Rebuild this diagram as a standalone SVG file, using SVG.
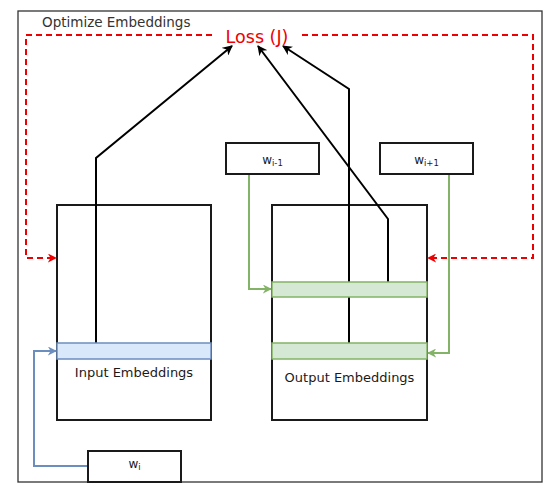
<svg xmlns="http://www.w3.org/2000/svg" width="557" height="494" viewBox="0 0 557 494">
<defs>
<style>
.frame{fill:#ffffff;stroke:#333333;stroke-width:1.3}
.box{fill:#ffffff;stroke:#1a1a1a;stroke-width:2}
.blue{fill:#dae8fc;stroke:#6c8ebf;stroke-width:1.5}
.green{fill:#d5e8d4;stroke:#82b366;stroke-width:1.5}
.blk{fill:none;stroke:#000000;stroke-width:2}
.red{fill:none;stroke:#ee0000;stroke-width:2;stroke-dasharray:6 4}
.gl{fill:none;stroke:#82b366;stroke-width:2}
.bl{fill:none;stroke:#6c8ebf;stroke-width:2}
text{font-family:"DejaVu Sans","Liberation Sans",sans-serif}
.lbl{font-size:13px;fill:#1a1a1a}
.w{font-size:12px;fill:#1a1a1a}
</style>
<marker id="aK" viewBox="0 0 10 10" refX="9" refY="5" markerWidth="10" markerHeight="10" orient="auto" markerUnits="userSpaceOnUse"><path d="M0,0 L10,5 L0,10 L3,5 z" fill="#000000"/></marker>
<marker id="aR" viewBox="0 0 10 10" refX="9" refY="5" markerWidth="9" markerHeight="9" orient="auto" markerUnits="userSpaceOnUse"><path d="M0,0 L10,5 L0,10 L3,5 z" fill="#ee0000"/></marker>
<marker id="aG" viewBox="0 0 10 10" refX="9" refY="5" markerWidth="9" markerHeight="9" orient="auto" markerUnits="userSpaceOnUse"><path d="M0,0 L10,5 L0,10 L3,5 z" fill="#82b366"/></marker>
<marker id="aB" viewBox="0 0 10 10" refX="9" refY="5" markerWidth="9" markerHeight="9" orient="auto" markerUnits="userSpaceOnUse"><path d="M0,0 L10,5 L0,10 L3,5 z" fill="#6c8ebf"/></marker>
</defs>
<rect width="557" height="494" fill="#ffffff"/>
<g id="frame">
<rect class="frame" x="18" y="11" width="524" height="471"/>
<text x="42" y="27" font-size="13.5" fill="#333333">Optimize Embeddings</text>
</g>
<g id="input-embeddings">
<rect class="box" x="57" y="205" width="154" height="215"/>
</g>
<g id="output-embeddings">
<rect class="box" x="272" y="205" width="155" height="215"/>
</g>
<g id="connectors">
<path class="blk" d="M96,343 L96,158 L232,46" marker-end="url(#aK)"/>
<path class="blk" d="M349,343 L349,89 L283,46" marker-end="url(#aK)"/>
<path class="blk" d="M388,282 L388,219 L258,46" marker-end="url(#aK)"/>
<path class="red" d="M212,35 L26,35 L26,258 L56,258" marker-end="url(#aR)"/>
<path class="red" d="M302,35 L533,35 L533,258 L428,258" marker-end="url(#aR)"/>
<path class="gl" d="M249,174 L249,289 L271,289" marker-end="url(#aG)"/>
<path class="gl" d="M449,174 L449,353 L428,353" marker-end="url(#aG)"/>
<path class="bl" d="M88,466 L34,466 L34,351 L56,351" marker-end="url(#aB)"/>
</g>
<g id="input-band">
<rect class="blue" x="57" y="343" width="154" height="16"/>
<text class="lbl" x="134" y="377" text-anchor="middle" font-size="14.5">Input Embeddings</text>
</g>
<g id="output-bands">
<rect class="green" x="272" y="282" width="155" height="15"/>
<rect class="green" x="272" y="343" width="155" height="16"/>
<text class="lbl" x="349.5" y="382" text-anchor="middle">Output Embeddings</text>
</g>
<g id="loss">
<text x="257" y="43" font-size="17.5" fill="#ee0000" text-anchor="middle">Loss (J)</text>
</g>
<g id="w-im1">
<rect class="box" x="226" y="143" width="93" height="31"/>
<text class="w" x="272.5" y="164" text-anchor="middle">w<tspan font-size="8.5" dy="2">i-1</tspan></text>
</g>
<g id="w-ip1">
<rect class="box" x="380" y="143" width="93" height="31"/>
<text class="w" x="426.5" y="164" text-anchor="middle">w<tspan font-size="8.5" dy="2">i+1</tspan></text>
</g>
<g id="w-i">
<rect class="box" x="88" y="451" width="93" height="31"/>
<text class="w" x="134.5" y="468" text-anchor="middle">w<tspan font-size="8.5" dy="2">i</tspan></text>
</g>
</svg>
